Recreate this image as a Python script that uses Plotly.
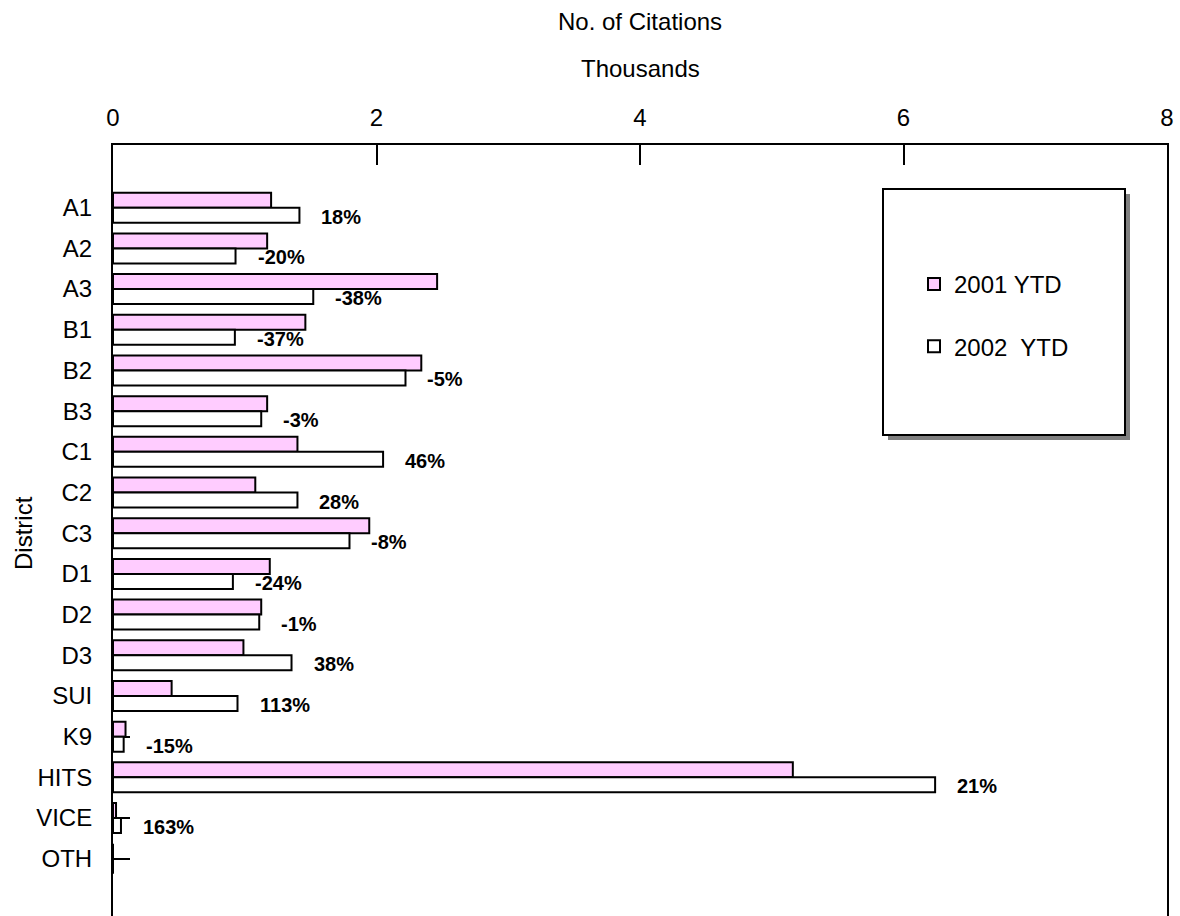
import plotly.graph_objects as go

# ---- data (thousands of citations) ----
districts = ["A1", "A2", "A3", "B1", "B2", "B3", "C1", "C2", "C3",
             "D1", "D2", "D3", "SUI", "K9", "HITS", "VICE", "OTH"]
ytd_2001 = [1.20, 1.17, 2.46, 1.46, 2.34, 1.17, 1.40, 1.08, 1.945,
            1.19, 1.125, 0.99, 0.445, 0.095, 5.16, 0.023, 0.0]
ytd_2002 = [1.415, 0.93, 1.52, 0.925, 2.22, 1.125, 2.05, 1.40, 1.795,
            0.91, 1.11, 1.355, 0.945, 0.081, 6.24, 0.0605, 0.0]
pct_change = ["18%", "-20%", "-38%", "-37%", "-5%", "-3%", "46%", "28%", "-8%",
              "-24%", "-1%", "38%", "113%", "-15%", "21%", "163%", ""]
x_ticks = [0, 2, 4, 6, 8]

W, H = 1180, 916
ML, MR, MT, MB = 113, 13, 145, 0
PW, PH = W - ML - MR, H - MT - MB


def px_x(p):
    return (p - ML) / PW


def px_y(p):
    return (H - MB - p) / PH


FONT = "Liberation Sans, Arial, sans-serif"

fig = go.Figure()
fig.add_trace(go.Bar(
    y=districts, x=ytd_2001, orientation="h", name="2001 YTD",
    marker=dict(color="#FFCCFF", line=dict(color="black", width=2)),
    legendgroup="a",
))
fig.add_trace(go.Bar(
    y=districts, x=ytd_2002, orientation="h", name="2002\u00a0 YTD",
    marker=dict(color="white", line=dict(color="black", width=2)),
    legendgroup="b",
))

annotations = []
for d, v, t in zip(districts, ytd_2002, pct_change):
    if t:
        annotations.append(dict(
            x=v, y=d, xref="x", yref="y", text=t, showarrow=False,
            xanchor="left", yanchor="middle", xshift=20, yshift=-9,
            font=dict(family=FONT, size=20, color="black", weight="bold"),
        ))

annotations += [
    dict(x=0.5, y=px_y(22), xref="paper", yref="paper", text="No. of Citations",
         showarrow=False, xanchor="center", yanchor="middle",
         font=dict(family=FONT, size=24, color="black")),
    dict(x=0.5, y=px_y(69), xref="paper", yref="paper", text="Thousands",
         showarrow=False, xanchor="center", yanchor="middle",
         font=dict(family=FONT, size=24, color="black")),
    dict(x=px_x(23), y=px_y(533), xref="paper", yref="paper", text="District",
         showarrow=False, xanchor="center", yanchor="middle", textangle=-90,
         font=dict(family=FONT, size=24, color="black")),
]

shapes = [
    dict(type="rect", xref="paper", yref="paper",
         x0=px_x(888), x1=px_x(1130), y0=px_y(194), y1=px_y(440),
         fillcolor="#808080", line=dict(width=0), layer="above"),
    dict(type="rect", xref="paper", yref="paper",
         x0=px_x(883), x1=px_x(1125), y0=px_y(189), y1=px_y(435),
         fillcolor="white", line=dict(color="black", width=2), layer="above"),
]

fig.update_layout(
    width=W, height=H,
    margin=dict(l=ML, r=MR, t=MT, b=MB, autoexpand=False),
    paper_bgcolor="white", plot_bgcolor="white",
    barmode="group", bargap=0.263, bargroupgap=0,
    font=dict(family=FONT, size=24, color="black"),
    showlegend=True,
    legend=dict(
        x=px_x(914), y=px_y(262), xanchor="left", yanchor="top",
        bgcolor="rgba(0,0,0,0)", borderwidth=0,
        font=dict(family=FONT, size=24, color="black"),
        tracegroupgap=28, traceorder="grouped",
    ),
    annotations=annotations,
    shapes=shapes,
    xaxis=dict(
        side="top", range=[0, 8], tickvals=x_ticks,
        ticktext=[str(t) for t in x_ticks],
        ticks="inside", ticklen=20, tickwidth=2, tickcolor="black",
        showline=True, linewidth=2, linecolor="black",
        showgrid=False, zeroline=False, ticklabelstandoff=7,
        tickfont=dict(family=FONT, size=24, color="black"),
        automargin=False, fixedrange=True,
    ),
    yaxis=dict(
        type="category", categoryorder="array", categoryarray=districts,
        range=[16 + (H - MB - 858.7) / 40.69, -(207.7 - MT) / 40.69],
        ticks="inside", ticklen=17, tickwidth=2, tickcolor="black",
        showline=True, linewidth=2, linecolor="black", mirror=True,
        showgrid=False, zeroline=False, ticklabelstandoff=14,
        tickfont=dict(family=FONT, size=24, color="black"),
        automargin=False, fixedrange=True, layer="below traces",
    ),
)

fig.write_html(
    "out.html",
    config={"displayModeBar": False, "staticPlot": True},
    post_script="document.body.style.margin='0';document.body.style.overflow='hidden';",
)
